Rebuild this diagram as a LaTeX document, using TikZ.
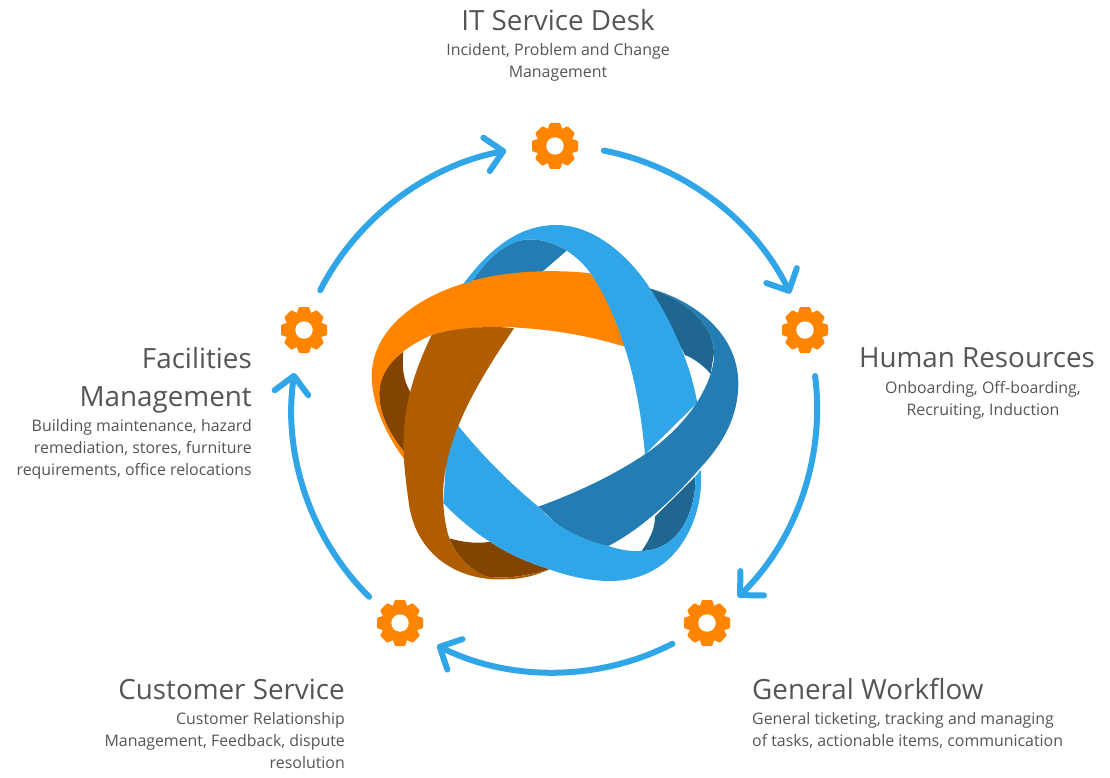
\documentclass[tikz,border=0pt]{standalone}
\usepackage{fontspec}
\setmainfont{Open Sans}
\usetikzlibrary{arrows.meta,calc}
\definecolor{lblue}{HTML}{30A5E8}
\definecolor{mblue}{HTML}{247DB2}
\definecolor{dblue}{HTML}{1F6690}
\definecolor{orng}{HTML}{FF8500}
\definecolor{brwn}{HTML}{B05C00}
\definecolor{dbrwn}{HTML}{824400}
\definecolor{txt}{HTML}{555555}
\tikzset{
  gearnode/.style={circle,minimum size=46pt,inner sep=0pt,outer sep=0pt},
  arr/.style={draw=lblue,line width=6pt,looseness=0.89,line cap=round,
    -{Straight Barb[length=17pt,width=34pt,line width=6pt,round]}},
  ttl/.style={font=\fontsize{27.8}{38}\selectfont,text=txt,inner sep=0pt,align=center},
  bdy/.style={font=\fontsize{15.9}{22}\selectfont,text=txt,inner sep=0pt},
}
\newcommand{\gearat}[2]{%
  \node[gearnode] (#1) at (#2) {};
  \begin{scope}[shift={(#2)}]
    \fill[orng] (0,0) circle (18);
    \foreach \a in {0,45,...,315}
      \fill[orng,rotate=\a,rounded corners=1pt] (-8,-14) -- (-5.2,-23) -- (5.2,-23) -- (8,-14) -- cycle;
    \fill[white] (0,0) circle (8.7);
  \end{scope}}
\begin{document}
\begin{tikzpicture}[x=1pt,y=-1pt]
\useasboundingbox (0,0) rectangle (1110,778);
\fill[white] (0,0) rectangle (1110,778);
% ribbons, in zoom coordinates
\begin{scope}[shift={(360,220)},x=0.3333pt,y=-0.3333pt]
  % back pieces
  \fill[mblue] (335,185) .. controls (400,90) and (460,58) .. (510,58) .. controls (550,58) and (590,72) .. (620,92) -- (545,157) -- (400,170) -- cycle;
  \fill[dblue] (868,205) .. controls (960,235) and (1060,300) .. (1062,400) -- (1052,462) .. controls (1030,435) and (1000,415) .. (975,405) -- (900,260) -- cycle;
  \fill[dblue] (1006,770) .. controls (1010,850) and (970,990) .. (845,993) .. controls (875,950) and (885,920) .. (885,890) -- cycle;
  \fill[dbrwn] (130,395) .. controls (70,440) and (55,480) .. (58,530) .. controls (60,590) and (95,650) .. (132,695) -- (150,515) .. controls (130,480) and (125,440) .. (130,395) -- cycle;
  \fill[dbrwn] (268,955) .. controls (310,968) and (360,972) .. (390,965) .. controls (440,1000) and (510,1030) .. (568,1048) .. controls (480,1075) and (420,1075) .. (380,1070) .. controls (330,1050) and (290,1010) .. (268,955) -- cycle;
  % orange band
  \fill[orng] (692,160) .. controls (590,148) and (430,150) .. (312,190) .. controls (150,240) and (35,340) .. (35,470) .. controls (38,570) and (90,660) .. (133,718) -- (132,695) .. controls (95,650) and (60,590) .. (58,530) .. controls (55,470) and (90,400) .. (215,345) .. controls (300,318) and (460,318) .. (470,323) .. controls (600,330) and (700,352) .. (795,380) -- (760,260) -- cycle;
  % light blue, top
  \fill[lblue] (310,192) .. controls (400,70) and (490,15) .. (590,15) .. controls (690,15) and (790,90) .. (860,190) .. controls (940,310) and (990,430) .. (1012,548) -- (855,703) .. controls (845,590) and (825,470) .. (790,370) .. controls (765,290) and (730,215) .. (692,160) .. controls (670,130) and (645,108) .. (620,92) .. controls (590,72) and (550,58) .. (510,58) .. controls (460,58) and (400,90) .. (335,185) -- cycle;
  % medium blue band
  \fill[mblue] (868,205) .. controls (1000,240) and (1135,340) .. (1135,490) .. controls (1135,590) and (1090,670) .. (1020,745) .. controls (930,850) and (830,935) .. (745,978) -- (640,960) -- (535,860) .. controls (660,815) and (770,760) .. (855,703) .. controls (940,645) and (1020,560) .. (1052,462) .. controls (1062,430) and (1062,415) .. (1062,400) .. controls (1060,300) and (960,235) .. (868,205) -- cycle;
  % light blue, bottom
  \fill[lblue] (295,618) .. controls (370,710) and (450,790) .. (535,860) .. controls (590,925) and (670,960) .. (745,978) .. controls (780,990) and (815,995) .. (845,993) .. controls (970,990) and (1010,850) .. (1006,770) -- (1022,750) .. controls (1035,880) and (960,1083) .. (750,1083) .. controls (690,1083) and (630,1070) .. (568,1048) .. controls (510,1030) and (440,1000) .. (390,965) .. controls (340,935) and (290,890) .. (250,850) -- (260,700) -- cycle;
  % brown band
  \fill[brwn] (215,345) .. controls (300,318) and (420,318) .. (462,325) .. controls (390,430) and (330,530) .. (295,618) .. controls (260,700) and (245,790) .. (250,850) .. controls (252,890) and (258,925) .. (268,955) .. controls (290,1010) and (330,1050) .. (380,1070) .. controls (420,1075) and (480,1075) .. (568,1048) .. controls (500,1080) and (450,1078) .. (400,1078) .. controls (270,1070) and (170,990) .. (148,860) .. controls (138,790) and (132,740) .. (130,680) .. controls (130,560) and (160,460) .. (215,345) -- cycle;
\end{scope}
% gears
\gearat{g1}{555,146}
\gearat{g2}{805,330}
\gearat{g3}{707,623}
\gearat{g4}{400,623}
\gearat{g5}{304,330}
\coordinate (c) at (555,409);
% arrows: arcs of the circle through the gears
\draw[arr] ($(c)!1!-10.7:(g1)$) to[bend left=26.4] ($(c)!1!8.6:(g2)$);
\draw[arr] ($(c)!1!-10.3:(g2)$) to[bend left=26.5] ($(c)!1!8.8:(g3)$);
\draw[arr] ($(c)!1!-8.8:(g3)$) to[bend left=26.9] ($(c)!1!9.4:(g4)$);
\draw[arr] ($(c)!1!-8.8:(g4)$) to[bend left=26.8] ($(c)!1!9.6:(g5)$);
\draw[arr] ($(c)!1!-9.4:(g5)$) to[bend left=26] ($(c)!1!10.7:(g1)$);
% texts
\node[ttl] (t1) at (558,20) {IT Service Desk};
\node[bdy,align=center,anchor=north] (b1) at (558,43) {Incident, Problem and Change\\Management};
\node[ttl] (t2) at (977,358) {Human Resources};
\node[bdy,align=center,anchor=north] (b2) at (983,381) {Onboarding, Off-boarding,\\Recruiting, Induction};
\node[ttl,align=right,anchor=north east] (t5) at (252,347) {Facilities\\Management};
\node[bdy,align=right,anchor=north east] (b5) at (252,419) {Building maintenance, hazard\\remediation, stores, furniture\\requirements, office relocations};
\node[ttl,anchor=east] (t4) at (345,689) {Customer Service};
\node[bdy,align=right,anchor=north east] (b4) at (345,712) {Customer Relationship\\Management, Feedback, dispute\\resolution};
\node[ttl,anchor=west] (t3) at (752,689) {General Workflow};
\node[bdy,align=left,anchor=north west] (b3) at (752,712) {General ticketing, tracking and managing\\of tasks, actionable items, communication};
\end{tikzpicture}
\end{document}
